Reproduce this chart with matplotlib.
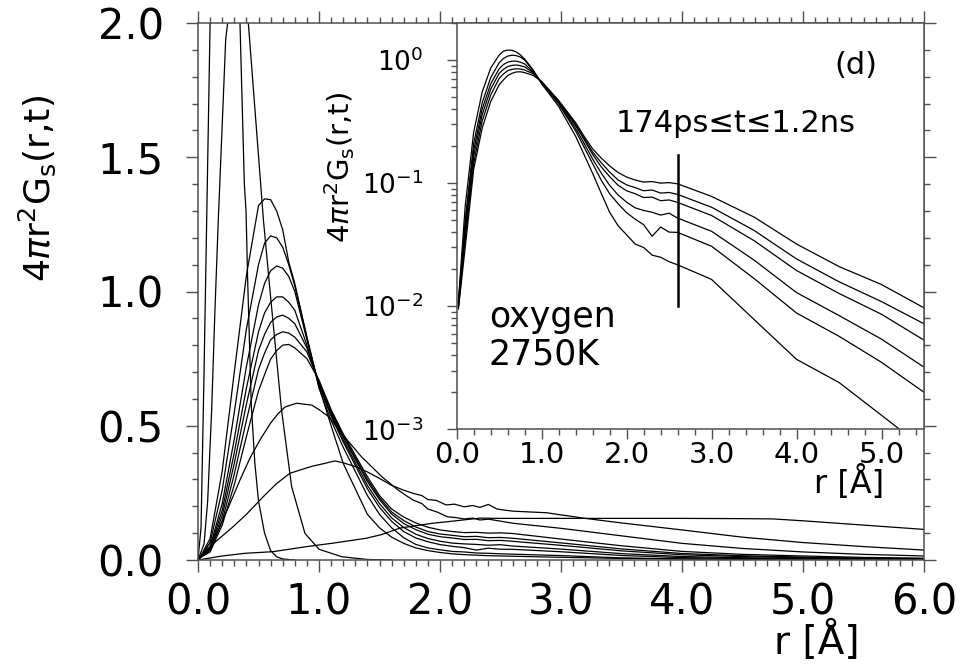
import matplotlib
matplotlib.use("Agg")
import matplotlib.pyplot as plt
from matplotlib.ticker import MultipleLocator, FixedLocator, FixedFormatter, NullFormatter, FormatStrFormatter, LogLocator

plt.rcParams['font.family'] = ['DejaVu Sans']
plt.rcParams['mathtext.fontset'] = 'dejavusans'

# ---------------- data ----------------
# shortest times (peaks above the frame)
r_A = [0, 0.025, 0.05, 0.075, 0.1, 0.15, 0.2, 0.25, 0.3, 0.347, 0.383, 0.397, 0.41, 0.44, 0.47, 0.5, 0.55, 0.6, 0.65, 0.7, 0.8]
g_A = [0, 0.12, 0.7, 1.35, 2.0, 3.2, 4.1, 3.9, 2.8, 2.0, 1.40, 1.30, 1.05, 0.58, 0.36, 0.22, 0.10, 0.035, 0.012, 0.004, 0.0]

r_B = [0, 0.05, 0.08, 0.113, 0.14, 0.168, 0.2, 0.229, 0.245, 0.3, 0.36, 0.416, 0.54, 0.6, 0.69, 0.774, 0.884, 1.0, 1.19, 1.4, 1.6]
g_B = [0, 0.06, 0.22, 0.56, 0.93, 1.27, 1.62, 1.94, 2.0, 2.5, 2.45, 2.0, 1.27, 0.98, 0.56, 0.273, 0.099, 0.04, 0.012, 0.002, 0.0]

# intermediate times (M2..M7 are also the inset curves, 174 ps <= t <= 1.2 ns)
r_M = [0, 0.02, 0.1, 0.2, 0.3, 0.4, 0.5, 0.55, 0.6, 0.65, 0.7, 0.75, 0.8, 0.9, 1.0, 1.1, 1.2,
       1.4, 1.5, 1.6, 1.7, 1.8, 1.9, 2.0, 2.1, 2.2, 2.3, 2.4, 2.5, 2.6,
       3.0, 3.5, 4.0, 4.5, 5.0, 5.5, 6.0]
g_M1 = [0, 0.012, 0.08, 0.33, 0.70, 1.06, 1.32, 1.345, 1.342, 1.30, 1.23, 1.11, 1.03, 0.83, 0.645, 0.50, 0.36,
        0.17, 0.12, 0.085, 0.062, 0.045, 0.035, 0.028, 0.023, 0.020, 0.018, 0.016, 0.015, 0.014,
        0.010, 0.006, 0.004, 0.0025, 0.0015, 0.0009, 0.0005]
g_M2 = [0, 0.011, 0.065, 0.26, 0.55, 0.86, 1.10, 1.18, 1.207, 1.20, 1.165, 1.10, 1.02, 0.83, 0.64, 0.52, 0.42,
        0.24, 0.17, 0.12, 0.083, 0.058, 0.045, 0.038, 0.032, 0.030, 0.026, 0.025, 0.023, 0.0217,
        0.0165, 0.0078, 0.0037, 0.0024, 0.0013, 0.0007, 0.0004]
g_M3 = [0, 0.0105, 0.05, 0.21, 0.45, 0.72, 0.95, 1.03, 1.077, 1.095, 1.087, 1.056, 1.0, 0.82, 0.65, 0.536, 0.44,
        0.265, 0.196, 0.144, 0.106, 0.082, 0.068, 0.0575, 0.051, 0.046, 0.037, 0.044, 0.040, 0.0398,
        0.0307, 0.0168, 0.0088, 0.0057, 0.0035, 0.002, 0.00124]
g_M4 = [0, 0.0102, 0.045, 0.185, 0.40, 0.64, 0.85, 0.92, 0.96, 0.98, 0.98, 0.96, 0.93, 0.80, 0.655, 0.543, 0.448,
        0.278, 0.21, 0.157, 0.121, 0.096, 0.080, 0.070, 0.063, 0.060, 0.058, 0.055, 0.057, 0.052,
        0.0406, 0.0237, 0.0129, 0.0084, 0.0054, 0.0032, 0.0021]
g_M5 = [0, 0.010, 0.040, 0.165, 0.36, 0.58, 0.78, 0.84, 0.885, 0.905, 0.912, 0.90, 0.88, 0.79, 0.66, 0.551, 0.458,
        0.292, 0.225, 0.171, 0.136, 0.113, 0.096, 0.0867, 0.082, 0.0764, 0.077, 0.072, 0.073, 0.0697,
        0.0546, 0.0341, 0.0195, 0.0127, 0.0086, 0.0053, 0.0036]
g_M6 = [0, 0.0098, 0.035, 0.145, 0.32, 0.52, 0.71, 0.77, 0.82, 0.84, 0.85, 0.845, 0.83, 0.775, 0.665, 0.555, 0.463,
        0.30, 0.232, 0.179, 0.147, 0.123, 0.106, 0.0968, 0.092, 0.0867, 0.088, 0.083, 0.084, 0.081,
        0.0637, 0.0413, 0.0242, 0.0158, 0.0109, 0.0072, 0.0048]
g_M7 = [0, 0.0095, 0.030, 0.13, 0.28, 0.46, 0.63, 0.69, 0.748, 0.78, 0.80, 0.803, 0.79, 0.75, 0.67, 0.56, 0.47,
        0.31, 0.24, 0.19, 0.16, 0.138, 0.122, 0.112, 0.106, 0.102, 0.103, 0.100, 0.101, 0.0987,
        0.078, 0.053, 0.032, 0.021, 0.015, 0.0097, 0.0068]

# longest times
r_S1 = [0, 0.154, 0.25, 0.347, 0.43, 0.512, 0.6, 0.664, 0.72, 0.815, 0.88, 0.94, 1.0, 1.08, 1.21, 1.35, 1.52,
        1.65, 1.72, 1.78, 1.85, 1.9, 1.98, 2.06, 2.13, 2.2, 2.27, 2.33, 2.4, 2.47, 2.6,
        3.0, 3.5, 4.0, 4.5, 5.0, 5.5, 6.0]
g_S1 = [0, 0.099, 0.195, 0.298, 0.38, 0.447, 0.51, 0.546, 0.57, 0.584, 0.58, 0.577, 0.56, 0.534, 0.459, 0.385, 0.31,
        0.262, 0.24, 0.223, 0.21, 0.19, 0.178, 0.161, 0.158, 0.153, 0.156, 0.149, 0.152, 0.147, 0.137,
        0.118, 0.09, 0.062, 0.043, 0.030, 0.021, 0.015]
r_S2 = [0, 0.07, 0.15, 0.29, 0.4, 0.54, 0.65, 0.76, 0.884, 0.95, 1.05, 1.13, 1.2, 1.3, 1.4, 1.5,
        1.6, 1.7, 1.78, 1.85, 1.9, 1.97, 2.05, 2.12, 2.2, 2.27, 2.33, 2.4, 2.47, 2.53, 2.6,
        2.88, 3.2, 3.5, 4.0, 4.5, 5.0, 5.5, 6.0]
g_S2 = [0, 0.037, 0.07, 0.124, 0.17, 0.236, 0.285, 0.323, 0.341, 0.35, 0.36, 0.369, 0.362, 0.348, 0.328, 0.304,
        0.278, 0.26, 0.248, 0.240, 0.225, 0.222, 0.205, 0.208, 0.198, 0.203, 0.196, 0.207, 0.19, 0.186, 0.182,
        0.176, 0.155, 0.138, 0.112, 0.085, 0.065, 0.05, 0.037]
r_S3 = [0, 0.2, 0.39, 0.62, 0.9, 1.12, 1.39, 1.52, 1.67, 1.94, 2.05, 2.33, 2.5, 3.0, 3.5, 4.0, 4.5, 4.75, 5.0, 5.5, 6.0]
g_S3 = [0, 0.015, 0.025, 0.031, 0.05, 0.063, 0.081, 0.095, 0.119, 0.137, 0.142, 0.156, 0.155, 0.155, 0.155, 0.155,
        0.154, 0.153, 0.146, 0.13, 0.114]

main_x_ticks = [0, 1, 2, 3, 4, 5, 6]
main_y_ticks = [0.0, 0.5, 1.0, 1.5, 2.0]
inset_x_ticks = [0, 1, 2, 3, 4, 5]
inset_y_ticks = [1e-3, 1e-2, 1e-1, 1e0]
inset_y_labels = [r'$10^{-3}$', r'$10^{-2}$', r'$10^{-1}$', r'$10^{0}$']
marker_r = [2.6, 2.6]
marker_g = [0.01, 0.17]

# ---------------- figure ----------------
W, H = 968, 668
fig = plt.figure(figsize=(W / 100, H / 100), dpi=100)

def fx(px):
    return px / W

def fy(py):
    return 1 - py / H

spine_col = '#505050'
lc = 'black'
lw = 0.9

ax = fig.add_axes([fx(198), fy(560), (924 - 198) / W, (560 - 23) / H])
main_curves = [(r_A, g_A), (r_B, g_B), (r_M, g_M1), (r_M, g_M2), (r_M, g_M3), (r_M, g_M4),
               (r_M, g_M5), (r_M, g_M6), (r_M, g_M7), (r_S1, g_S1), (r_S2, g_S2), (r_S3, g_S3)]
for rr, gg in main_curves:
    ax.plot(rr, gg, color=lc, lw=lw)
ax.set_xlim(0, 6)
ax.set_ylim(0, 2)
ax.xaxis.set_major_locator(FixedLocator(main_x_ticks))
ax.xaxis.set_minor_locator(MultipleLocator(0.1))
ax.yaxis.set_major_locator(FixedLocator(main_y_ticks))
ax.yaxis.set_minor_locator(MultipleLocator(0.1))
ax.xaxis.set_major_formatter(FormatStrFormatter('%.1f'))
ax.yaxis.set_major_formatter(FormatStrFormatter('%.1f'))
ax.tick_params(which='both', direction='out', top=True, right=True, colors=spine_col,
               labelcolor='black', width=1.0)
ax.tick_params(which='major', length=8.5)
ax.tick_params(which='minor', length=4.5)
ax.tick_params(axis='x', which='major', labelsize=30, pad=7)
ax.tick_params(axis='y', which='major', labelsize=30, pad=16)
for s in ax.spines.values():
    s.set_color(spine_col)
    s.set_linewidth(1.1)

fig.text(fx(37), fy(188), r'$4\pi\mathrm{r^2G_s}$(r,t)', rotation=90, ha='center', va='center', fontsize=26)
fig.text(fx(860), fy(654), 'r [Å]', ha='right', va='baseline', fontsize=28)

# ---------------- inset ----------------
axi = fig.add_axes([fx(456.7), fy(429.3), (924 - 456.7) / W, (429.3 - 23) / H])
for gg in [g_M2, g_M3, g_M4, g_M5, g_M6, g_M7]:
    axi.plot(r_M, gg, color=lc, lw=lw)
axi.plot(marker_r, marker_g, color='black', lw=1.8)
axi.set_yscale('log', nonpositive='mask')
axi.set_xlim(0, 5.5)
axi.set_ylim(1e-3, 2)
axi.xaxis.set_major_locator(FixedLocator(inset_x_ticks))
axi.xaxis.set_minor_locator(MultipleLocator(0.2))
axi.xaxis.set_major_formatter(FormatStrFormatter('%.1f'))
axi.yaxis.set_major_locator(FixedLocator(inset_y_ticks))
axi.yaxis.set_major_formatter(FixedFormatter(inset_y_labels))
axi.yaxis.set_minor_locator(LogLocator(base=10, subs=[2, 3, 4, 5, 6, 7, 8, 9], numticks=20))
axi.yaxis.set_minor_formatter(NullFormatter())
axi.tick_params(which='both', direction='out', top=False, right=False, colors=spine_col,
                labelcolor='black', width=1.0)
axi.tick_params(which='major', length=7)
axi.tick_params(which='minor', length=4)
axi.tick_params(axis='x', which='major', labelsize=21, pad=1.5)
axi.tick_params(axis='y', which='major', labelsize=19, pad=17)
for s in axi.spines.values():
    s.set_color(spine_col)
    s.set_linewidth(1.1)

fig.text(fx(339.5), fy(167.5), r'$4\pi\mathrm{r^2G_s}$(r,t)', rotation=90, ha='center', va='center', fontsize=21)
fig.text(fx(884), fy(493), 'r [Å]', ha='right', va='baseline', fontsize=23)
fig.text(fx(855.5), fy(74), '(d)', ha='center', va='baseline', fontsize=22)
fig.text(fx(736), fy(132), '174ps≤t≤1.2ns', ha='center', va='baseline', fontsize=22)
fig.text(fx(489), fy(326.7), 'oxygen', ha='left', va='baseline', fontsize=25)
fig.text(fx(489), fy(365), '2750K', ha='left', va='baseline', fontsize=25)

fig.savefig('out.png', dpi=100)
